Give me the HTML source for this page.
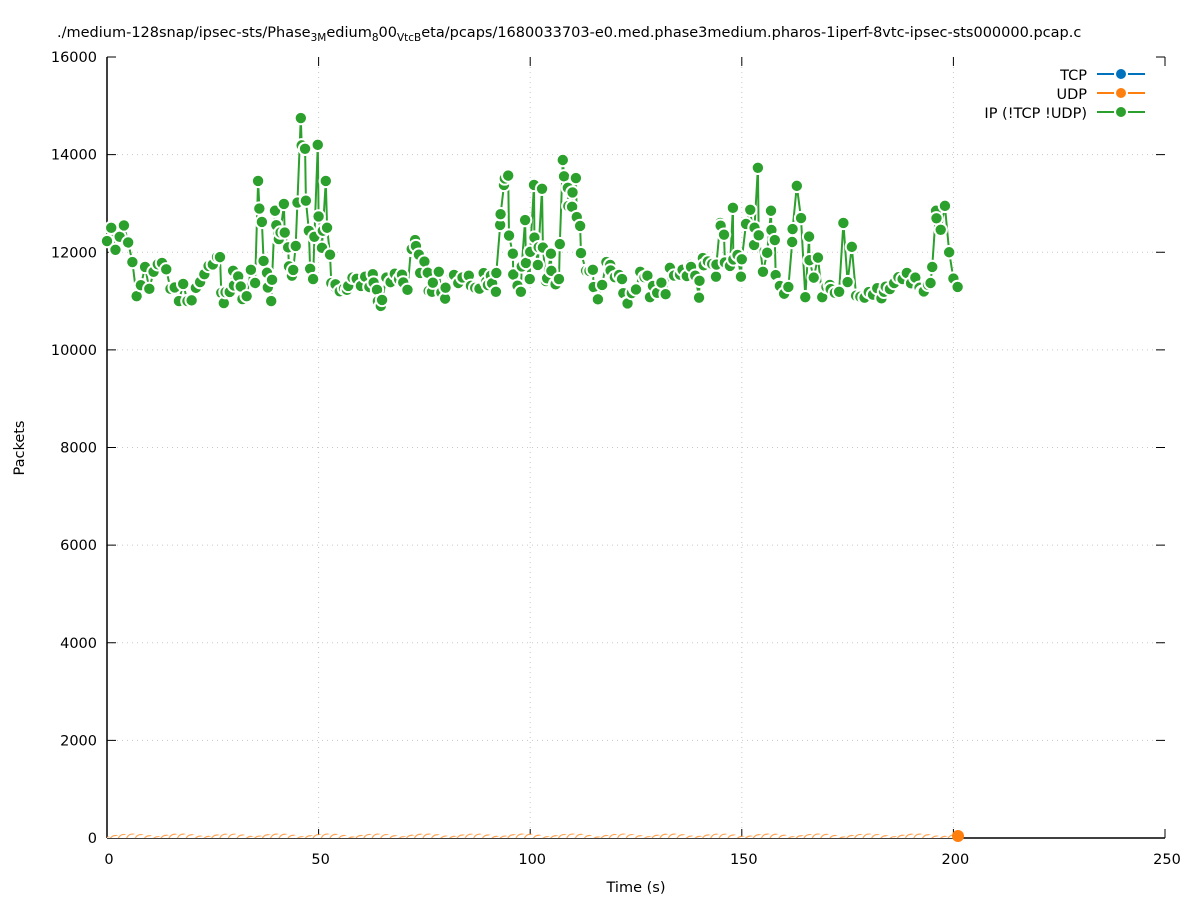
<!DOCTYPE html>
<html><head><meta charset="utf-8"><style>
html,body{margin:0;padding:0;background:#fff;}
svg{display:block;font-family:"DejaVu Sans","Liberation Sans",sans-serif;}
</style></head><body>
<svg id="s" width="1197" height="900" xmlns="http://www.w3.org/2000/svg">
<rect width="1197" height="900" fill="#fff"/>
<text x="57" y="37" font-size="14.5" fill="#000">./medium-128snap/ipsec-sts/Phase<tspan font-size="10.5" dy="4">3M</tspan><tspan dy="-4">edium</tspan><tspan font-size="10.5" dy="4">8</tspan><tspan dy="-4">00</tspan><tspan font-size="10.5" dy="4">VtcB</tspan><tspan dy="-4">eta/pcaps/1680033703-e0.med.phase3medium.pharos-1iperf-8vtc-ipsec-sts000000.pcap.c</tspan></text>
<g id="grid" stroke="#c8c8c8" stroke-width="1" stroke-dasharray="1,4"></g>
<g id="axes"></g>
<defs><clipPath id="cp"><rect x="107" y="57" width="1058" height="781"/></clipPath></defs>
<g id="data"></g>
<g id="legend" font-size="14.5"></g>
<text x="24" y="448" font-size="14.5" transform="rotate(-90 24 448)" text-anchor="middle">Packets</text>
<text x="636" y="892" font-size="14.5" text-anchor="middle">Time (s)</text>
</svg>
<script>
var NS="http://www.w3.org/2000/svg";
function el(p,n,a,t){var e=document.createElementNS(NS,n);for(var k in a)e.setAttribute(k,a[k]);if(t!=null)e.textContent=t;p.appendChild(e);return e;}
var X0=107,X1=1165,Y0=838,Y1=57;
function px(t){return X0+(X1-X0)*t/250;}
function py(v){return Y0-(Y0-Y1)*v/16000;}
var g=document.getElementById('grid'),ax=document.getElementById('axes');
for(var v=2000;v<16000;v+=2000){el(g,'line',{x1:X0,x2:X1,y1:py(v),y2:py(v)});}
for(var t=50;t<250;t+=50){el(g,'line',{x1:px(t),x2:px(t),y1:Y0,y2:Y1});}
el(ax,'line',{x1:X0,x2:X0,y1:Y1,y2:Y0,stroke:'#000','stroke-width':1.5});
el(ax,'line',{x1:X0,x2:X1,y1:Y0,y2:Y0,stroke:'#000','stroke-width':1.5});
for(var v=0;v<=16000;v+=2000){var y=py(v);el(ax,'line',{x1:X0,x2:X0+9,y1:y,y2:y,stroke:'#000'});el(ax,'line',{x1:X1,x2:X1-9,y1:y,y2:y,stroke:'#000'});
el(ax,'text',{x:97,y:y+5,'font-size':14.5,'text-anchor':'end'},String(v));}
for(var t=0;t<=250;t+=50){var x=px(t);el(ax,'line',{x1:x,x2:x,y1:Y0,y2:Y0-9,stroke:'#000'});el(ax,'line',{x1:x,x2:x,y1:Y1,y2:Y1+9,stroke:'#000'});
el(ax,'text',{x:x+2,y:864,'font-size':14.5,'text-anchor':'middle'},String(t));}
var K=[[0,12230],[1,12500],[2,12050],[4,12550],[5,12200],[6,11800],[7,11100],[9,11700],[10,11250],[11,11600],[13,11780],[14,11650],[15,11250],[16,11280],[17,11000],[18,11350],[19,11000],[21,11270],[23,11550],[25,11750],[26.7,11900],[27.6,10960],[29.8,11620],[31.6,11300],[33,11100],[34,11640],[35,11370],[35.7,13460],[36.6,12620],[37.8,11580],[38.8,11000],[39.7,12850],[40.6,12270],[41.8,12990],[42.8,12100],[43.7,11520],[44.6,12130],[45.8,14750],[46.8,14120],[47.7,12440],[48.7,11450],[49.8,14200],[50.8,12090],[51.7,13460],[52.7,11950],[53.9,11290],[55,11200],[56.7,11230],[58,11480],[60,11310],[62.8,11550],[63.8,11230],[64.7,10900],[66,11480],[68,11560],[69.7,11540],[71,11230],[71.8,12050],[72.8,12250],[73.7,11950],[75.8,11580],[76.8,11190],[78.4,11600],[79.9,11050],[81.5,11520],[83,11370],[85.5,11520],[87,11270],[88.6,11580],[89.6,11400],[90.7,11520],[91.9,11190],[92.9,12560],[93.8,13380],[94.8,13570],[95.9,11970],[97.8,11190],[98.8,12660],[99.9,11450],[100.9,13380],[101.8,11740],[102.8,13300],[103.7,11410],[104.9,11970],[105.9,11350],[106.8,11450],[107.7,13890],[108.9,13320],[109.9,12930],[110.8,13520],[111.8,12540],[113.2,11620],[114.8,11640],[115.8,11050],[117,11330],[118,11800],[118.9,11740],[121.7,11450],[122.9,10960],[124.8,11250],[126,11600],[127.7,11520],[128.3,11080],[133,11680],[135.4,11540],[137.8,11740],[139,11520],[139.9,11070],[140.8,11880],[143,11760],[143.9,11500],[144.9,12600],[145.8,12360],[147.2,11720],[147.9,12910],[149.8,11500],[151,12580],[152,12870],[152.9,12150],[153.8,13730],[155,11600],[156,11990],[156.9,12850],[157.8,12250],[158.8,11330],[160,11150],[161,11290],[161.9,12210],[163,13360],[164,12700],[165,11080],[165.9,12320],[167,11480],[168,11890],[169,11080],[170,11290],[170.8,11330],[173,11190],[174,12600],[175,11390],[176,12110],[177,11110],[179,11070],[181,11130],[183.6,11190],[186,11370],[188,11450],[191,11480],[192.6,11190],[194.6,11370],[195.9,12850],[197,12460],[198,12950],[199,12000],[201,11290]];
var P=[];
for(var i=0;i<K.length;i++){P.push(K[i]);if(i<K.length-1){var a=K[i],b=K[i+1];for(var t=Math.floor(a[0])+1;t<b[0]-0.5;t++){P.push([t,Math.min(a[1],b[1])+Math.abs(a[1]-b[1])*0.3+(Math.sin(t*2.7)*120)]);}}}
P.sort(function(a,b){return a[0]-b[0];});
var d=document.getElementById('data');
var cg=el(d,'g',{'clip-path':'url(#cp)'});
for(var t=0;t<=200;t+=2){var ov=Math.abs(Math.sin(t*1.3))*60;el(cg,'circle',{cx:px(t),cy:py(ov)+5,r:6,fill:'#fff',stroke:'#ff7f0e','stroke-width':1.2,'stroke-opacity':0.7});el(cg,'circle',{cx:px(t)+3,cy:py(ov)+5,r:6,fill:'#fff'});}
var s='';P.forEach(function(p,i){s+=(i?'L':'M')+px(p[0]).toFixed(1)+','+py(p[1]).toFixed(1);});
el(d,'path',{d:s,fill:'none',stroke:'#2ca02c','stroke-width':2});
P.forEach(function(p){el(d,'circle',{cx:px(p[0]),cy:py(p[1]),r:6.2,fill:'#2ca02c',stroke:'#fff','stroke-width':2});});
el(d,'circle',{cx:958,cy:836,r:6,fill:'#ff7f0e'});
var L=document.getElementById('legend');
[['TCP','#0072bd',80],['UDP','#ff7f0e',99],['IP (!TCP  !UDP)','#2ca02c',118]].forEach(function(r){
el(L,'text',{x:1087,y:r[2],'text-anchor':'end','xml:space':'preserve'},r[0]);
var y=r[2]-6;el(L,'line',{x1:1097,x2:1145,y1:y,y2:y,stroke:r[1],'stroke-width':2});
el(L,'circle',{cx:1121,cy:y,r:6,fill:r[1],stroke:'#fff','stroke-width':2});});
</script>
</body></html>
